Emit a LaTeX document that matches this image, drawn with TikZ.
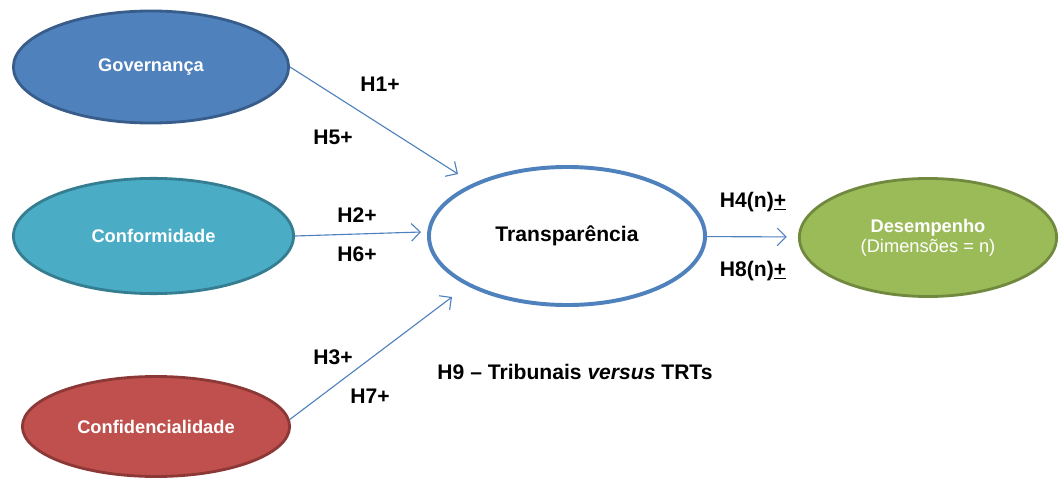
\documentclass[tikz,border=0pt]{standalone}
\usepackage{fontspec}
\setmainfont{Liberation Sans}
\usetikzlibrary{shapes.geometric,arrows.meta,positioning}
\definecolor{govfill}{HTML}{4F81BD}
\definecolor{govdraw}{HTML}{385D8A}
\definecolor{conffill}{HTML}{4BACC6}
\definecolor{confdraw}{HTML}{357D91}
\definecolor{sigfill}{HTML}{C0504D}
\definecolor{sigdraw}{HTML}{8C3836}
\definecolor{desfill}{HTML}{9BBB59}
\definecolor{desdraw}{HTML}{71893F}
\definecolor{setacolor}{HTML}{4F81BD}
\tikzset{
	construto/.style={
		ellipse,
		line width=2pt,
		inner sep=0pt,
		text=white,
		align=center,
		font=\fontsize{13}{14}\selectfont\bfseries
	},
	central/.style={
		ellipse,
		line width=2.8pt,
		draw=setacolor,
		fill=white,
		inner sep=0pt,
		font=\fontsize{15}{18}\selectfont\bfseries
	},
	hipotese/.style={
		inner sep=0pt,
		font=\fontsize{15}{18}\selectfont\bfseries
	},
	seta/.style={
		draw=setacolor,
		line width=0.8pt,
		-{Straight Barb[length=2.2mm,width=4.4mm]}
	},
}

\begin{document}
\begin{tikzpicture}[x=0.025cm,y=-0.025cm]
		\useasboundingbox (0,0) rectangle (1059,480);
		\node (gov) at (151,67) [construto,fill=govfill,draw=govdraw,minimum width=6.88cm,minimum height=2.8cm] {Governança};
		\node (conf) at (153.5,236) [construto,fill=conffill,draw=confdraw,minimum width=7cm,minimum height=2.88cm] {Conformidade};
		\node (sigilo) at (156,426.5) [construto,fill=sigfill,draw=sigdraw,minimum width=6.68cm,minimum height=2.5cm] {Confidencialidade};
		\node (transp) at (567,236) [central,minimum width=6.9cm,minimum height=3.45cm] {Transparência};
		\node (desemp) at (928,237.5) [construto,fill=desfill,draw=desdraw,minimum width=6.43cm,minimum height=2.95cm] {Desempenho\\{\mdseries (Dimensões = n)}};
		
		\coordinate (pgov) at (458,174);
		\coordinate (pconf) at (421,232);
		\coordinate (psigilo) at (452,297);
		
		\draw [seta] (gov.east) -- (pgov);
		\draw [seta] (conf.east) -- (pconf);
		\draw [seta] (sigilo.3) -- (psigilo);
		\draw [seta,shorten >=0.28cm] (transp) -- (desemp);
		
		\node (h1) at (380,84) [hipotese] {H1+};
		\node (h5) at (333,137) [hipotese] {H5+};
		\node (h2) at (357,215) [hipotese] {H2+};
		\node (h6) at (357,254) [hipotese] {H6+};
		\node (h3) at (333,357) [hipotese] {H3+};
		\node (h7) at (370,396) [hipotese] {H7+};
		\node (h4) at (753,202) [hipotese] {H4(n)\underline{+}};
		\node (h8) at (753,271) [hipotese] {H8(n)\underline{+}};
		\node (h9) at (575,372) [hipotese] {H9 – Tribunais \textit{versus} TRTs};
		
		\end{tikzpicture}
\end{document}
